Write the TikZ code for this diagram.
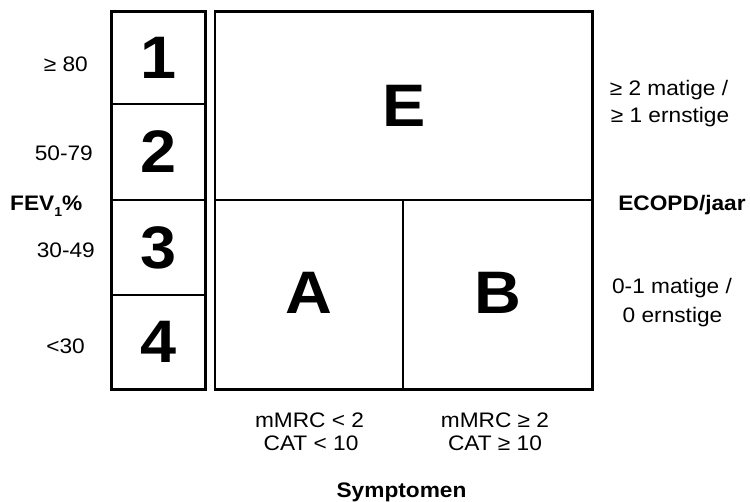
\documentclass[tikz,border=0pt]{standalone}
\usepackage{fontspec}
\setmainfont[FakeStretch=1.08]{Liberation Sans}
\begin{document}
\begin{tikzpicture}[x=1pt,y=-1pt,
  grid/.style={line width=2.8pt,line join=miter},
  lbl/.style={font=\fontsize{21}{25}\selectfont,inner sep=0pt,anchor=base},
  lblr/.style={lbl,anchor=base east},
  boldlbl/.style={lbl,font=\fontsize{21}{25}\selectfont\bfseries},
  big/.style={font=\fontsize{60}{60}\selectfont\bfseries,inner sep=0pt}]
\useasboundingbox (0,0) rectangle (750,501);

% FEV1 grade column
\coordinate (g0) at (111.5,11.5);
\coordinate (g4) at (205.5,389.5);
\draw[grid] (g0) rectangle (g4);
\draw[grid] (111.5,104) -- (205.5,104);
\draw[grid] (111.5,200) -- (205.5,200);
\draw[grid] (111.5,295) -- (205.5,295);
\node[big] (n1) at (158.5,57.75) {1};
\node[big] (n2) at (158.5,152) {2};
\node[big] (n3) at (158.5,247.5) {3};
\node[big] (n4) at (158.5,342.25) {4};

% ABE group grid
\coordinate (m0) at (215,11.5);
\coordinate (m1) at (592.5,389.5);
\draw[grid] (m0) rectangle (m1);
\draw[grid] (215,200) -- (592.5,200);
\draw[grid] (403,200) -- (403,389.5);
\node[big] (gE) at (403.75,105.75) {E};
\node[big] (gA) at (309,293) {A};
\node[big] (gB) at (497.75,293) {B};

% FEV1 labels
\node[lblr] (f80) at (88,71) {≥ 80};
\node[lblr] (f50) at (93,160) {50-79};
\node[boldlbl,anchor=base west] (fev) at (10,210) {FEV\raisebox{-0.3em}{\fontsize{13}{13}\selectfont 1}\%};
\node[lblr] (f30) at (95,257) {30-49};
\node[lblr] (f0) at (85,353) {<30};

% exacerbation labels
\node[lbl] (e1) at (669,95) {≥ 2 matige /};
\node[lbl] (e2) at (670,122) {≥ 1 ernstige};
\node[boldlbl] (ecopd) at (682,210) {ECOPD/jaar};
\node[lbl] (e3) at (672,293) {0-1 matige /};
\node[lbl] (e4) at (672.5,322) {0 ernstige};

% symptom labels
\node[lbl] (s1) at (309.5,427) {mMRC < 2};
\node[lbl] (s2) at (311,450.5) {CAT < 10};
\node[lbl] (s3) at (495,427) {mMRC ≥ 2};
\node[lbl] (s4) at (495,450.5) {CAT ≥ 10};
\node[boldlbl] (symp) at (401.5,497) {Symptomen};
\end{tikzpicture}
\end{document}
